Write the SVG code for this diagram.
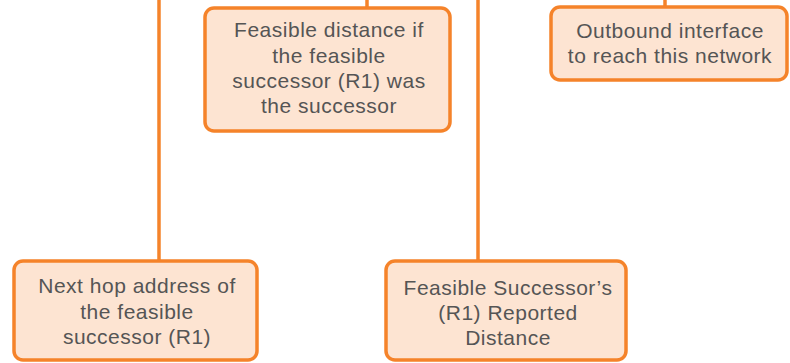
<svg xmlns="http://www.w3.org/2000/svg" width="790" height="363" viewBox="0 0 790 363">
  <style>
    .box { fill: #fde4d2; stroke: #f5832a; stroke-width: 3.5; }
    .wire { stroke: #f5832a; stroke-width: 3.5; fill: none; }
    .lbl { font-family: "Liberation Sans", Arial, sans-serif; font-size: 21px; letter-spacing: 0.5px; fill: #555555; text-anchor: middle; }
  </style>
  <rect width="790" height="363" fill="#ffffff"/>
  <g id="connectors">
    <line class="wire" x1="159" y1="0" x2="159" y2="261"/>
    <line class="wire" x1="367" y1="0" x2="367" y2="8"/>
    <line class="wire" x1="478" y1="0" x2="478" y2="261"/>
    <line class="wire" x1="665" y1="0" x2="665" y2="7"/>
  </g>
  <g id="feasible-distance">
    <rect class="box" x="205" y="8" width="245" height="123" rx="9"/>
    <text class="lbl" x="329" y="37">Feasible distance if</text>
    <text class="lbl" x="329" y="62.5">the feasible</text>
    <text class="lbl" x="329" y="88">successor (R1) was</text>
    <text class="lbl" x="329" y="113">the successor</text>
  </g>
  <g id="outbound-interface">
    <rect class="box" x="551" y="7" width="236" height="73" rx="9"/>
    <text class="lbl" x="670" y="38">Outbound interface</text>
    <text class="lbl" x="670" y="63">to reach this network</text>
  </g>
  <g id="next-hop">
    <rect class="box" x="14" y="261" width="243" height="99" rx="9"/>
    <text class="lbl" x="137" y="293">Next hop address of</text>
    <text class="lbl" x="137" y="319">the feasible</text>
    <text class="lbl" x="137" y="344">successor (R1)</text>
  </g>
  <g id="reported-distance">
    <rect class="box" x="386" y="261" width="240" height="99" rx="9"/>
    <text class="lbl" x="508" y="295">Feasible Successor’s</text>
    <text class="lbl" x="508" y="320">(R1) Reported</text>
    <text class="lbl" x="508" y="345">Distance</text>
  </g>
</svg>
